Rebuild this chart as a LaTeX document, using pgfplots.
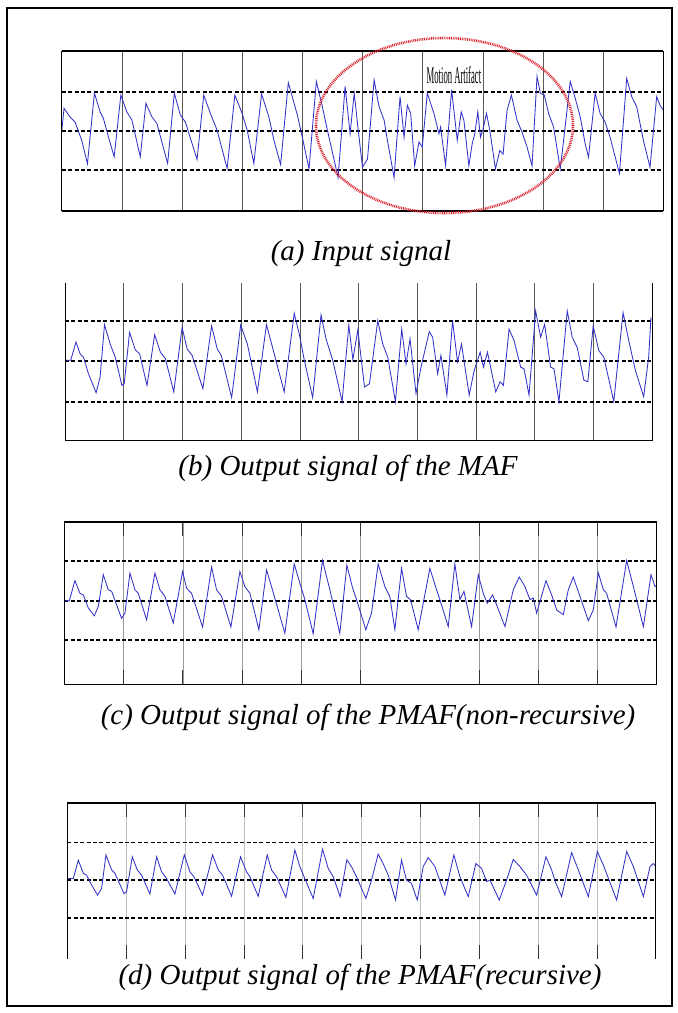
\documentclass[border=0pt]{standalone}
\usepackage{pgfplots}
\pgfplotsset{compat=1.18}
\usepackage{fontspec}
\setmainfont{Liberation Serif}
\usepackage{graphicx}

\definecolor{sig}{RGB}{50,50,200}
\definecolor{ell}{RGB}{215,35,45}

\pgfplotsset{
  panel/.style={scale only axis, xmin=0, xmax=10, xtick={0,...,10}, ytick=\empty,
    xticklabels={}, yticklabels={}, xmajorgrids, clip=false,
    major grid style={black!65, line width=0.6pt}, major tick length=0pt,
    axis line style={draw=none}},
  refl/.style={black, line width=1.9pt, dash pattern=on 4pt off 2.4pt, forget plot},
  sigline/.style={sig, line width=0.85pt},
}
\newcommand{\pcap}[1]{{\fontsize{29}{32}\selectfont\itshape #1}}

\begin{document}
\begin{tikzpicture}
\useasboundingbox (0pt,0pt) rectangle (678pt,-1013pt);
\draw[line width=1.3pt] (7pt,-8pt) rectangle (672pt,-1006pt);

% ---------------- (a)
\begin{axis}[panel, at={(61.7pt,-51pt)}, anchor=north west, width=601.6pt, height=160pt,
  ymin=-2.05, ymax=2.05]
\addplot[refl] coordinates {(0,1) (10,1)};
\addplot[refl] coordinates {(0,0) (10,0)};
\addplot[refl] coordinates {(0,-1) (10,-1)};
\addplot[sigline] coordinates {
(0,0.0) (0.039,0.58) (0.139,0.36) (0.222,0.23) (0.333,-0.24) (0.428,-0.84) (0.544,0.97) (0.639,0.49) (0.694,0.32) (0.778,-0.16) (0.872,-0.66) (0.983,0.92) (1.083,0.49) (1.167,0.28) (1.306,-0.66) (1.40,0.71) (1.50,0.36) (1.583,0.19) (1.761,-0.83) (1.872,0.97) (1.972,0.41) (2.056,0.23) (2.25,-0.73) (2.361,0.92) (2.472,0.45) (2.583,0.02) (2.75,-0.96) (2.878,0.92) (3.0,0.45) (3.083,0.02) (3.194,-0.83) (3.322,0.95) (3.444,0.36) (3.528,-0.24) (3.639,-0.86) (3.767,1.24) (3.917,0.41) (4.0,-0.16) (4.111,-0.97) (4.233,1.27) (4.333,0.62) (4.417,0.02) (4.594,-1.19) (4.711,1.14) (4.794,-0.07) (4.862,0.97) (4.917,0.19) (5.0,-0.93) (5.083,-0.72) (5.193,1.31) (5.276,0.62) (5.359,0.28) (5.414,-0.24) (5.525,-1.19) (5.624,0.88) (5.691,-0.16) (5.746,0.66) (5.801,0.45) (5.867,-0.89) (5.939,-0.28) (5.994,-0.41) (6.077,0.97) (6.188,0.45) (6.271,-0.07) (6.298,0.10) (6.381,-0.89) (6.481,1.05) (6.575,-0.24) (6.641,0.49) (6.685,0.28) (6.768,-0.89) (6.823,-0.33) (6.867,-0.07) (6.917,0.49) (6.961,-0.16) (7.006,0.06) (7.061,0.45) (7.116,0.02) (7.210,-0.97) (7.282,-0.50) (7.337,-0.59) (7.403,0.53) (7.475,0.92) (7.569,0.28) (7.652,-0.03) (7.735,-0.41) (7.818,-0.89) (7.901,1.40) (7.956,0.97) (8.022,0.92) (8.094,0.45) (8.177,0.10) (8.287,-0.97) (8.343,-0.24) (8.453,1.27) (8.536,0.84) (8.619,0.36) (8.702,-0.33) (8.757,-0.67) (8.867,0.97) (8.950,0.45) (9.033,0.23) (9.116,-0.16) (9.271,-1.09) (9.392,1.35) (9.475,0.88) (9.558,0.62) (9.669,-0.24) (9.779,-0.93) (9.890,0.88) (9.945,0.66) (10.0,0.53)
};
\draw[line width=0.7pt] (rel axis cs:0,0) -- (rel axis cs:0,1);
\draw[line width=0.7pt] (rel axis cs:1,0) -- (rel axis cs:1,1);
\draw[line width=2pt] (rel axis cs:0,1) -- (rel axis cs:1,1);
\draw[line width=2pt] (rel axis cs:0,0) -- (rel axis cs:1,0);
\draw[ell, line width=2.6pt, dash pattern=on 0.9pt off 0.9pt] (axis cs:6.363,0.14) ellipse [x radius=128.5pt, y radius=87.5pt];
\node at (axis cs:6.52,1.44) {\scalebox{0.36}[1]{\fontsize{24}{26}\selectfont Motion Artifact}};
\end{axis}
\node[anchor=base] at (361pt,-260pt) {\pcap{(a) Input signal}};

% ---------------- (b)
\begin{axis}[panel, at={(65pt,-283pt)}, anchor=north west, width=587pt, height=157pt,
  ymin=-1.95, ymax=1.93]
\addplot[refl] coordinates {(0,1) (10,1)};
\addplot[refl] coordinates {(0,0) (10,0)};
\addplot[refl] coordinates {(0,-1) (10,-1)};
\addplot[sigline] coordinates {
(0,0.02) (0.097,0.02) (0.188,0.47) (0.257,0.18) (0.314,0.10) (0.399,-0.31) (0.530,-0.78) (0.599,-0.39) (0.673,0.90) (0.770,0.42) (0.855,0.10) (0.969,-0.60) (1.009,-0.56) (1.100,0.71) (1.197,0.28) (1.271,0.18) (1.397,-0.60) (1.528,0.65) (1.625,0.22) (1.710,0.06) (1.853,-0.76) (1.995,0.83) (2.081,0.30) (2.166,0.14) (2.349,-0.68) (2.497,0.87) (2.594,0.30) (2.662,0.14) (2.839,-0.90) (2.993,0.89) (3.107,0.42) (3.278,-0.76) (3.432,0.90) (3.535,0.34) (3.734,-0.76) (3.905,1.18) (3.991,0.67) (4.077,0.02) (4.219,-0.90) (4.362,1.14) (4.447,0.55) (4.561,0.02) (4.721,-1.00) (4.835,0.89) (4.904,0.04) (4.989,0.77) (5.102,-0.64) (5.187,-0.56) (5.328,1.00) (5.413,0.42) (5.498,0.10) (5.629,-1.00) (5.736,0.79) (5.810,-0.07) (5.878,0.55) (5.980,-0.80) (6.065,-0.15) (6.206,0.73) (6.263,0.59) (6.348,-0.31) (6.404,0.14) (6.506,-0.84) (6.602,1.00) (6.687,-0.02) (6.755,0.42) (6.886,-0.84) (6.971,-0.23) (7.073,0.22) (7.129,-0.15) (7.197,0.22) (7.338,-0.76) (7.412,-0.51) (7.469,-0.60) (7.565,0.79) (7.650,0.51) (7.763,-0.15) (7.820,-0.19) (7.905,-0.84) (8.018,1.24) (8.103,0.59) (8.171,0.91) (8.273,-0.15) (8.330,-0.19) (8.415,-1.00) (8.556,1.24) (8.641,0.59) (8.726,0.34) (8.839,-0.47) (8.907,-0.51) (8.998,0.87) (9.094,0.26) (9.179,0.10) (9.349,-1.00) (9.507,1.20) (9.604,0.51) (9.717,-0.23) (9.858,-0.88) (9.943,0.10) (9.983,1.08)
};
\draw[line width=0.7pt] (rel axis cs:0,1) -- (rel axis cs:0,0) -- (rel axis cs:1,0) -- (rel axis cs:1,1);
\end{axis}
\node[anchor=base] at (348pt,-475pt) {\pcap{(b) Output signal of the MAF}};

% ---------------- (c)
\begin{axis}[panel, at={(64.3pt,-522pt)}, anchor=north west, width=592.4pt, height=162pt,
  ymin=-2.1, ymax=1.99, xtick={0,1,2,3,4,5,7,8,9,10},
  major grid style={black!40, line width=0.5pt},
  major tick length=14pt, tick align=inside, tick style={black!80, line width=0.6pt}]
\addplot[refl] coordinates {(0,1) (10,1)};
\addplot[refl] coordinates {(0,0) (10,0)};
\addplot[refl] coordinates {(0,-1) (10,-1)};
\addplot[sigline] coordinates {
(0,0) (0.084,0) (0.180,0.51) (0.264,0.19) (0.321,0.15) (0.405,-0.18) (0.506,-0.38) (0.574,-0.14) (0.658,0.66) (0.742,0.28) (0.799,0.24) (0.967,-0.44) (1.024,-0.31) (1.108,0.70) (1.192,0.28) (1.249,0.19) (1.389,-0.48) (1.530,0.70) (1.614,0.28) (1.699,0.11) (1.839,-0.56) (1.997,0.74) (2.064,0.32) (2.148,0.19) (2.334,-0.66) (2.486,0.85) (2.570,0.28) (2.655,0.11) (2.812,-0.66) (2.964,0.74) (3.048,0.36) (3.133,0.19) (3.285,-0.73) (3.414,0.78) (3.498,0.36) (3.723,-0.82) (3.881,0.93) (3.976,0.45) (4.061,0.03) (4.201,-0.83) (4.359,1.02) (4.483,0.28) (4.651,-0.82) (4.770,0.90) (4.860,0.36) (4.940,0.0) (5.090,-0.73) (5.186,-0.31) (5.298,0.93) (5.411,0.36) (5.495,0.11) (5.580,-0.73) (5.693,0.82) (5.777,0.11) (5.845,0.03) (5.974,-0.73) (6.171,0.82) (6.284,0.28) (6.340,0.03) (6.481,-0.65) (6.593,0.93) (6.678,0.03) (6.746,0.24) (6.875,-0.65) (6.988,0.66) (7.072,0.19) (7.140,-0.06) (7.230,0.15) (7.297,-0.10) (7.438,-0.65) (7.579,0.28) (7.680,0.60) (7.776,0.36) (7.860,0.03) (7.917,0.07) (7.973,-0.31) (8.029,-0.02) (8.131,0.51) (8.226,0.15) (8.311,-0.23) (8.423,-0.35) (8.508,0.28) (8.592,0.60) (8.705,0.11) (8.846,-0.50) (8.930,-0.23) (9.014,0.71) (9.099,0.28) (9.155,0.19) (9.313,-0.66) (9.493,1.02) (9.606,0.36) (9.775,-0.65) (9.904,0.66) (9.971,0.36) (10.0,0.40)
};
\draw[line width=0.7pt] (rel axis cs:0,1) -- (rel axis cs:0,0) -- (rel axis cs:1,0) -- (rel axis cs:1,1);
\draw[line width=2pt] (rel axis cs:0,1) -- (rel axis cs:1,1);
\end{axis}
\node[anchor=base] at (368pt,-724pt) {\pcap{(c) Output signal of the PMAF(non-recursive)}};

% ---------------- (d)
\begin{axis}[panel, at={(67.3pt,-803pt)}, anchor=north west, width=588.4pt, height=156pt,
  ymin=-2.1, ymax=2.05,
  major grid style={black!25, line width=0.5pt},
  major tick length=14pt, tick align=inside, tick style={black!80, line width=0.6pt}]
\addplot[refl] coordinates {(0,1) (10,1)};
\addplot[refl] coordinates {(0,0) (10,0)};
\addplot[refl] coordinates {(0,-1) (10,-1)};
\addplot[sigline] coordinates {
(0,0.04) (0.102,0.04) (0.187,0.53) (0.272,0.18) (0.328,0.13) (0.413,-0.13) (0.515,-0.40) (0.583,-0.22) (0.657,0.67) (0.753,0.27) (0.810,0.18) (0.963,-0.36) (1.008,-0.31) (1.104,0.62) (1.189,0.27) (1.263,0.13) (1.404,-0.37) (1.518,0.62) (1.603,0.22) (1.687,0.04) (1.829,-0.37) (1.988,0.67) (2.084,0.22) (2.152,0.09) (2.299,-0.40) (2.469,0.67) (2.565,0.27) (2.639,0.13) (2.792,-0.43) (2.944,0.62) (3.046,0.22) (3.103,0.09) (3.245,-0.43) (3.398,0.67) (3.471,0.27) (3.556,0.09) (3.715,-0.46) (3.868,0.80) (3.952,0.36) (4.037,0.04) (4.179,-0.49) (4.338,0.82) (4.434,0.31) (4.519,0.09) (4.637,-0.44) (4.752,0.54) (4.840,0.33) (4.915,0.09) (5.074,-0.49) (5.170,0.0) (5.283,0.69) (5.368,0.44) (5.454,0.13) (5.578,-0.53) (5.680,0.53) (5.765,0.0) (5.850,-0.09) (5.947,-0.53) (6.049,0.36) (6.134,0.60) (6.247,0.36) (6.417,-0.40) (6.570,0.67) (6.672,0.09) (6.814,-0.44) (6.944,0.44) (7.041,0.31) (7.126,-0.04) (7.183,0.0) (7.341,-0.53) (7.466,0.0) (7.579,0.55) (7.693,0.36) (7.806,0.13) (7.976,-0.40) (8.135,0.62) (8.231,0.27) (8.305,-0.09) (8.401,-0.44) (8.571,0.73) (8.685,0.27) (8.855,-0.44) (9.008,0.76) (9.110,0.40) (9.336,-0.53) (9.507,0.76) (9.620,0.36) (9.790,-0.44) (9.903,0.36) (9.960,0.44) (10.0,0.36)
};
\draw[line width=0.7pt] (rel axis cs:0,0) -- (rel axis cs:0,1);
\draw[line width=0.7pt] (rel axis cs:1,0) -- (rel axis cs:1,1);
\draw[line width=2pt] (rel axis cs:0,1) -- (rel axis cs:1,1);
\end{axis}
\node[anchor=base] at (360pt,-984pt) {\pcap{(d) Output signal of the PMAF(recursive)}};
\end{tikzpicture}
\end{document}
